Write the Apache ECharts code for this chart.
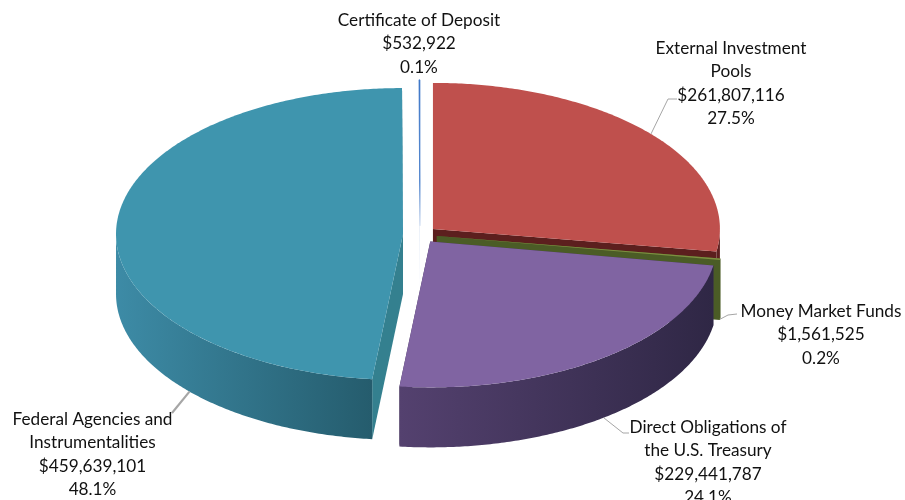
<!DOCTYPE html>
<html>
<head>
<meta charset="utf-8">
<style>html,body{margin:0;padding:0;background:#fff}#chart{width:905px;height:500px}</style>
<script src="https://cdn.jsdelivr.net/npm/echarts@6/dist/echarts.min.js"></script>
</head>
<body>
<div id="chart"></div>
<script>
// Portfolio holdings, clockwise from twelve o'clock
const names = [
  'External Investment\nPools',
  'Money Market Funds',
  'Direct Obligations of\nthe U.S. Treasury',
  'Federal Agencies and\nInstrumentalities',
  'Certificate of Deposit'
];
const values = [261807116, 1561525, 229441787, 459639101, 532922];
const valueLabels = ['$261,807,116', '$1,561,525', '$229,441,787', '$459,639,101', '$532,922'];
const percentLabels = ['27.5%', '0.2%', '24.1%', '48.1%', '0.1%'];

// Tilted-disc layout
const CX = 420, CY = 234.5, RX = 287, RY = 146, DEPTH = 60, EXPLODE = 17;

// Face colours per slice
const topColors  = ['#bf504d', '#7d9040', '#8064a2', '#3f95ae', '#3f78c8'];
const cutColors  = ['#5c1f1e', '#4b5c26', '#3f3153', '#34808f', '#d3dff2'];
const wallStops  = [
  ['#5c1f1e', '#5c1f1e'],
  ['#4b5c26', '#4b5c26'],
  ['#2f2745', '#54416f'],
  ['#255c6d', '#3d8ba6'],
  ['#4f81bd', '#4f81bd']
];
// Painter's order, far slices first
const drawOrder = [4, 0, 1, 3, 2];

// Label placement: centre x, centre y of the first line, leader elbow and end
const labelPos = [[731, 48.5], [821, 311.5], [708, 427.5], [92.5, 419.5], [419, 20.5]];
const leaderKnee = [[668, 99], [728, 315], [623, 433], [172, 413], null];
const leaderEnd = [[677, 99], [737, 314], [629, 433], [172, 413], null];
const leaderWidth = [1, 1, 1, 2.2, 0];
const LINE_H = 23.3;

const total = values.reduce((a, b) => a + b, 0);
const TAU = Math.PI * 2;
const slices = [];
let acc = 0;
values.forEach(v => {
  const a0 = acc / total * TAU;
  acc += v;
  const a1 = acc / total * TAU;
  const mid = (a0 + a1) / 2;
  slices.push({
    a0, a1, mid,
    ox: CX + EXPLODE * Math.sin(mid),
    oy: CY - EXPLODE * Math.cos(mid) * RY / RX
  });
});

// Point on a slice rim; angle runs clockwise from the top
function rim(s, a, drop) {
  return [s.ox + RX * Math.sin(a), s.oy - RY * Math.cos(a) + (drop || 0)];
}
function arc(s, a0, a1, drop) {
  const n = Math.max(2, Math.ceil((a1 - a0) / 0.01));
  const pts = [];
  for (let i = 0; i <= n; i++) pts.push(rim(s, a0 + (a1 - a0) * i / n, drop));
  return pts;
}
function poly(points, fill, stroke) {
  return {
    type: 'polygon',
    shape: { points },
    style: stroke ? { fill, stroke, lineWidth: 0.7 } : { fill },
    silent: true
  };
}

// The hairline slice fades as it narrows towards its apex
function hairlineFill(s, i) {
  return new echarts.graphic.LinearGradient(
    0, s.oy - RY, 0, s.oy,
    [
      { offset: 0, color: topColors[i] },
      { offset: 0.7, color: topColors[i] },
      { offset: 1, color: cutColors[i] }
    ],
    true
  );
}

function sliceFaces(s, i) {
  const faces = [];
  const apex = [s.ox, s.oy];
  const apexLow = [s.ox, s.oy + DEPTH];
  // straight cut faces, visible where they turn towards the viewer
  [s.a0, s.a1].forEach(a => {
    faces.push(poly([apex, rim(s, a), rim(s, a, DEPTH), apexLow], cutColors[i]));
  });
  // outer wall: only the front half of the rim shows
  const from = Math.max(s.a0, Math.PI / 2);
  const to = Math.min(s.a1, Math.PI * 1.5);
  if (to > from) {
    const upper = arc(s, from, to, 0);
    const lower = arc(s, from, to, DEPTH).reverse();
    const xs = upper.map(p => p[0]);
    const fill = new echarts.graphic.LinearGradient(
      Math.min(...xs), 0, Math.max(...xs), 0,
      [{ offset: 0, color: wallStops[i][1] }, { offset: 1, color: wallStops[i][0] }],
      true
    );
    faces.push(poly(upper.concat(lower), fill));
  }
  // top face
  const topPts = [apex].concat(arc(s, s.a0, s.a1, 0));
  if (i === 4) {
    const fade = hairlineFill(s, i);
    faces.push(poly(topPts, fade, fade));
  } else {
    faces.push(poly(topPts, topColors[i]));
  }
  return faces;
}

function leaderStart(i) {
  const s = slices[i];
  const from = Math.max(s.a0, Math.PI / 2);
  const to = Math.min(s.a1, Math.PI * 1.5);
  // leaders leave from the front wall, except the slice whose bulk sits at the back
  if (i === 0) return rim(s, s.mid);
  return rim(s, (from + to) / 2, DEPTH);
}

function renderDisc() {
  const children = [];
  drawOrder.forEach(i => children.push(...sliceFaces(slices[i], i)));
  names.forEach((name, i) => {
    if (leaderKnee[i]) {
      children.push({
        type: 'polyline',
        shape: { points: [leaderStart(i), leaderKnee[i], leaderEnd[i]] },
        style: { stroke: '#a6a6a6', lineWidth: leaderWidth[i], fill: 'none' },
        silent: true
      });
    }
    const text = [name, valueLabels[i], percentLabels[i]].join('\n');
    children.push({
      type: 'text',
      style: {
        text,
        x: labelPos[i][0],
        y: labelPos[i][1] - LINE_H / 2,
        align: 'center',
        verticalAlign: 'top',
        font: '17.2px Lato',
        lineHeight: LINE_H,
        fill: '#111111'
      },
      silent: true
    });
  });
  return { type: 'group', children };
}

const chart = echarts.init(document.getElementById('chart'), null, { renderer: 'canvas' });
chart.setOption({
  animation: false,
  backgroundColor: '#ffffff',
  series: [{
    type: 'custom',
    coordinateSystem: 'none',
    data: [0],
    renderItem: renderDisc
  }]
});
</script>
</body>
</html>
